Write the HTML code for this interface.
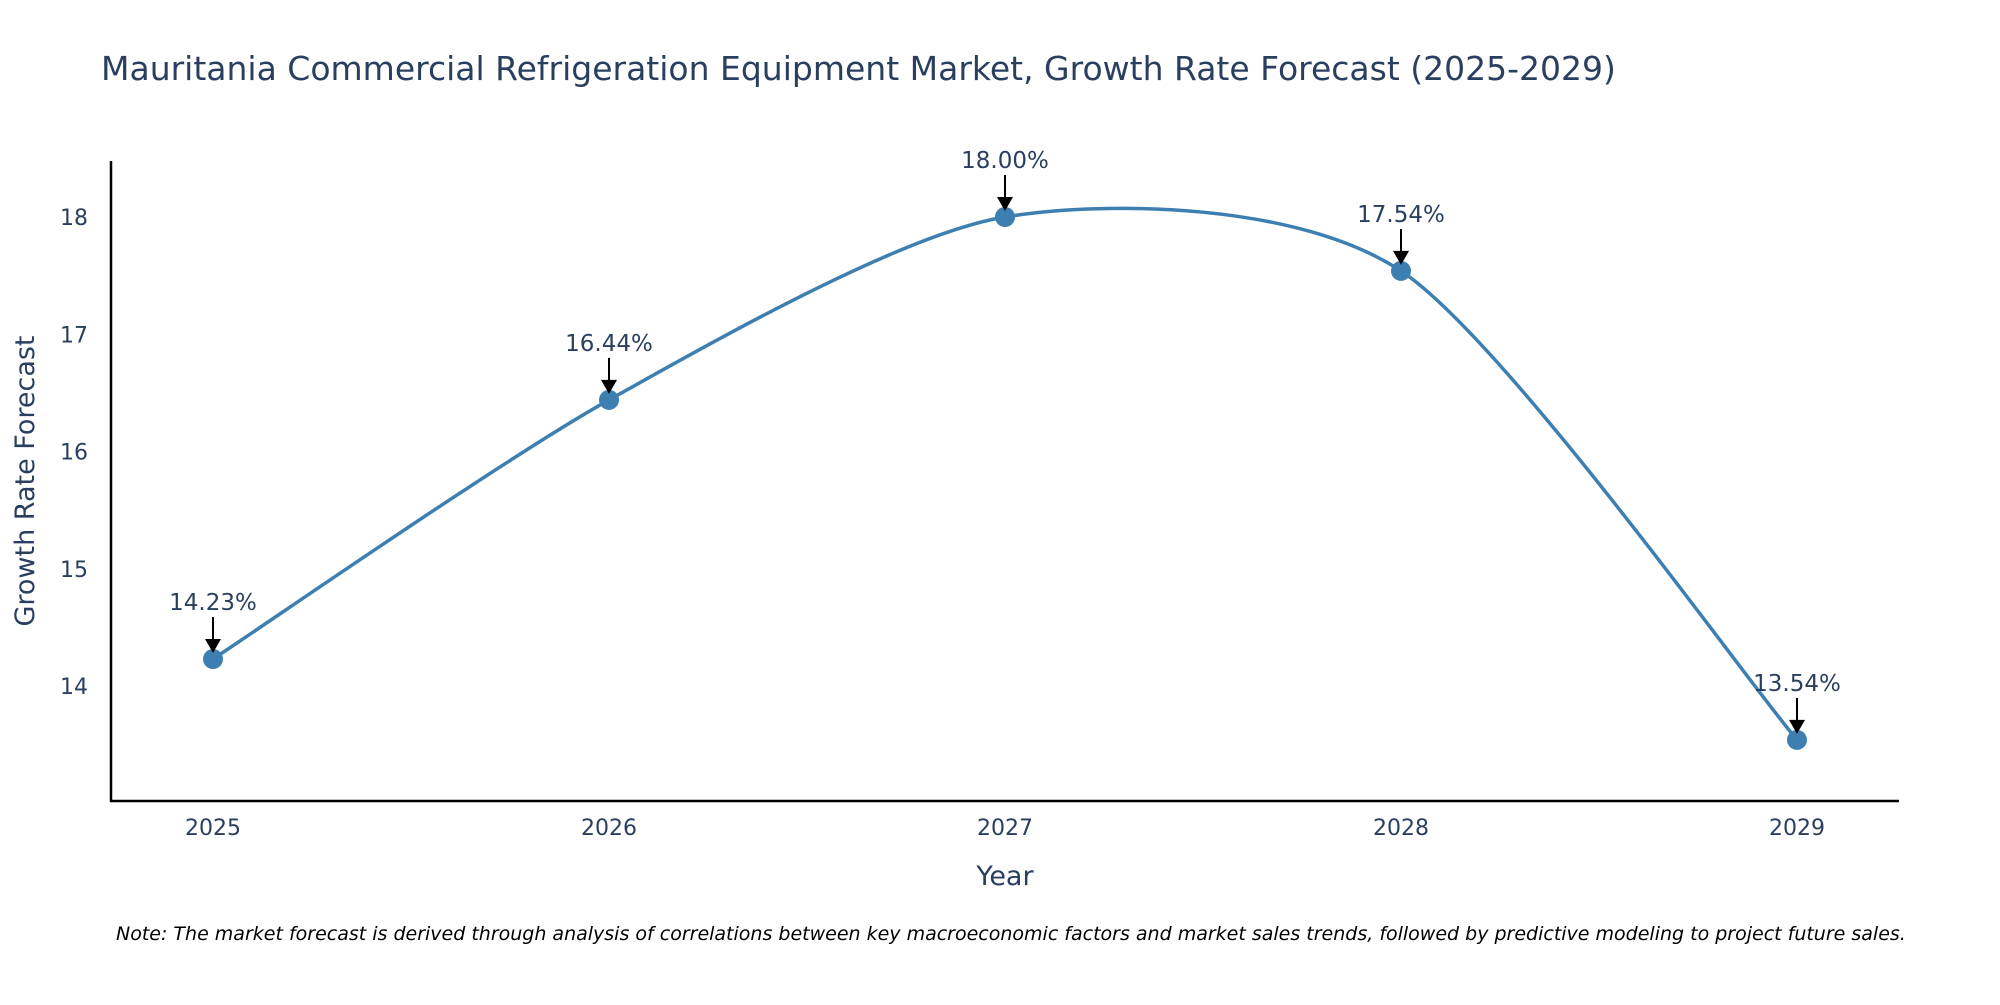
<!DOCTYPE html>
<html><head><meta charset="utf-8"><style>
body{margin:0;background:#fff;}
svg text{font-family:"DejaVu Sans","Liberation Sans",sans-serif;fill:#2a3f5f;}
</style></head><body>
<svg id="chart" width="2000" height="1000" viewBox="0 0 2000 1000" xmlns="http://www.w3.org/2000/svg">
<rect width="2000" height="1000" fill="#fff"/>
<text x="101" y="80" font-size="33">Mauritania Commercial Refrigeration Equipment Market, Growth Rate Forecast (2025-2029)</text>
<g id="axes"></g>
<g id="plot"></g>
<text x="1005" y="885" font-size="27" text-anchor="middle">Year</text>
<text transform="translate(34,481) rotate(-90)" font-size="27" text-anchor="middle">Growth Rate Forecast</text>
<text x="116" y="940" font-size="19" font-style="italic" style="fill:#000">Note: The market forecast is derived through analysis of correlations between key macroeconomic factors and market sales trends, followed by predictive modeling to project future sales.</text>
</svg>
<script>
const years = [2025, 2026, 2027, 2028, 2029];
const growth = [14.23, 16.44, 18.00, 17.54, 13.54];
const yTicks = [14, 15, 16, 17, 18];
const NS = "http://www.w3.org/2000/svg";
const xScale = v => 213 + (v - 2025) * (1797 - 213) / 4;
const yScale = v => 686 - (v - 14) * (686 - 217) / 4;
function mk(tag, attrs, parent){const e=document.createElementNS(NS,tag);for(const k in attrs)e.setAttribute(k,attrs[k]);parent.appendChild(e);return e;}
const axes=document.getElementById('axes'), plot=document.getElementById('plot');
let a=mk('line',{x1:111,y1:161,x2:111,y2:802,stroke:'#000','stroke-width':2.5},axes);


a=mk('line',{x1:110,y1:801,x2:1899,y2:801,stroke:'#000','stroke-width':2.5},axes);


yTicks.forEach(t=>{const e=mk('text',{x:88,y:yScale(t)+8,'font-size':22,'text-anchor':'end'},axes);e.textContent=t;

});
years.forEach(t=>{const e=mk('text',{x:xScale(t),y:835,'font-size':22,'text-anchor':'middle'},axes);e.textContent=t;

});
const pts=years.map((y,i)=>[xScale(y),yScale(growth[i])]);
let d=`M${pts[0][0]},${pts[0][1]}`;
for(let i=0;i<pts.length-1;i++){const p0=pts[Math.max(0,i-1)],p1=pts[i],p2=pts[i+1],p3=pts[Math.min(pts.length-1,i+2)];const k=0.13;
d+=` C${p1[0]+(p2[0]-p0[0])*k},${p1[1]+(p2[1]-p0[1])*k} ${p2[0]-(p3[0]-p1[0])*k},${p2[1]-(p3[1]-p1[1])*k} ${p2[0]},${p2[1]}`;}
const line=mk('path',{d:d,fill:'none',stroke:'#3d7fb0','stroke-width':3.5},plot);


pts.forEach((p,i)=>{
const c=mk('circle',{cx:p[0],cy:p[1],r:10,fill:'#3d7fb0'},plot);


const l=mk('line',{x1:p[0],y1:p[1]-42,x2:p[0],y2:p[1]-18,stroke:'#000','stroke-width':2},plot);


const h=mk('polygon',{points:`${p[0]-8},${p[1]-20} ${p[0]+8},${p[1]-20} ${p[0]},${p[1]-6}`,fill:'#000'},plot);


const t=mk('text',{x:p[0],y:p[1]-49,'font-size':23,'text-anchor':'middle'},plot);t.textContent=growth[i].toFixed(2)+'%';


});
</script>
</body></html>
